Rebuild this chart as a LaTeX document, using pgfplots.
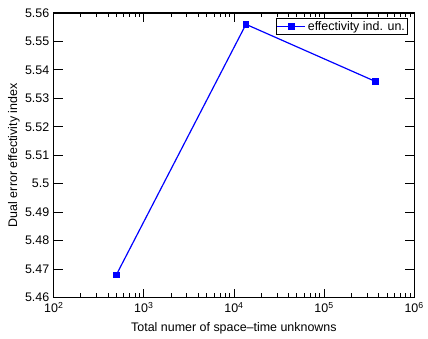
\documentclass[border=0pt]{standalone}
\usepackage{fontspec}
\setmainfont{Liberation Sans}
\usepackage{pgfplots}
\pgfplotsset{compat=1.18}
\begin{document}
\fontsize{13bp}{15bp}\selectfont
\begin{tikzpicture}
\begin{axis}[
  scale only axis, width=362bp, height=286bp,
  xmode=log, xmin=1e2, xmax=1e6, ymin=5.46, ymax=5.56,
  xtick={1e2,1e3,1e4,1e5,1e6},
  xticklabels={10\textsuperscript{2},10\textsuperscript{3},10\textsuperscript{4},10\textsuperscript{5},10\textsuperscript{6}},
  ytick={5.46,5.47,5.48,5.49,5.5,5.51,5.52,5.53,5.54,5.55,5.56},
  /pgf/number format/assume math mode=true,
  tick label style={font=\fontsize{12.5bp}{14bp}\selectfont},
  label style={font=\fontsize{12.5bp}{14bp}\selectfont},
  tick align=inside, major tick length=9bp, minor tick length=4.5bp,
  axis line style={line width=1.2bp},
  every tick/.style={black, line width=0.8bp},
  xlabel={Total numer of space--time unknowns},
  ylabel={Dual error effectivity index},
  xlabel style={yshift=-1bp},
  ylabel style={yshift=-3.5bp},
  legend style={at={(0.983,0.982)}, anchor=north east, draw=black, line width=1.2bp,
    font=\fontsize{12.5bp}{14bp}\selectfont, inner sep=0.5bp, row sep=0bp},
  legend image code/.code={\draw[#1, line width=1.2bp] (0bp,0bp) -- (28bp,0bp); \draw[#1, only marks] plot coordinates {(14bp,0bp)};},
]
\addplot[blue, line width=1.2bp, mark=square*, mark size=2.6bp, mark options={solid, fill=blue}]
  coordinates {(495,5.468) (13600,5.556) (374000,5.5359)};
\addlegendentry{effectivity ind. un.}
\end{axis}
\path[use as bounding box] ([shift={(-54bp,-34bp)}]current axis.south west) rectangle ([shift={(12bp,13bp)}]current axis.north east);
\end{tikzpicture}
\end{document}
